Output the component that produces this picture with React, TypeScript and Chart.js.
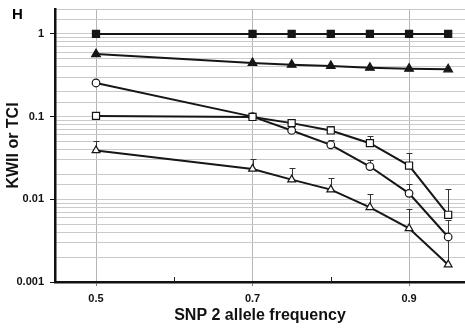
import React, { useEffect, useRef } from "react";
import { Chart, registerables } from "chart.js";

Chart.register(...registerables);

const xValues = [0.5, 0.7, 0.75, 0.8, 0.85, 0.9, 0.95];
const filledSquares = [1, 1, 1, 1, 1, 1, 1];
const filledTriangles = [0.57, 0.445, 0.425, 0.41, 0.39, 0.38, 0.373];
const openCircles = [0.255, 0.1, 0.068, 0.0456, 0.0249, 0.0118, 0.0035];
const openSquares = [0.102, 0.099, 0.0834, 0.068, 0.0477, 0.0256, 0.0065];
const openTriangles = [0.039, 0.0233, 0.0173, 0.0131, 0.008, 0.00445, 0.00162];

const openCirclesUpper = [null, null, null, 0.0515, 0.03, 0.0155, 0.0056];
const openSquaresUpper = [null, null, null, 0.077, 0.058, 0.036, 0.0134];
const openTrianglesUpper = [0.05, 0.031, 0.0238, 0.0182, 0.0116, 0.0076, 0.0034];

const xTickValues = [0.5, 0.6, 0.7, 0.8, 0.9];
const xLabeledTicks = [0.5, 0.7, 0.9];
const yLabeledTicks = [1, 0.1, 0.01, 0.001];
const panelLabel = "H";
const xTitle = "SNP 2 allele frequency";
const yTitle = "KWII or TCI";

const FONT = "'Liberation Sans', Arial, sans-serif";
const INK = "#161616";
const GRID = "#c9c9c9";

const near = (a: number, b: number) => Math.abs(a - b) < 1e-9 * Math.max(1, Math.abs(b)) + 1e-12;
const isDecade = (v: number) => yLabeledTicks.some((t) => Math.abs(v - t) / t < 1e-6);

const toPts = (ys: number[]) => xValues.map((x, i) => ({ x, y: ys[i] }));

const errorBarPlugin = {
  id: "errorBars",
  beforeDatasetsDraw(chart: any) {
    const { ctx, scales } = chart;
    const xs = scales.x;
    const ys = scales.y;
    ctx.save();
    ctx.strokeStyle = "#333";
    ctx.lineWidth = 1;
    chart.data.datasets.forEach((ds: any) => {
      const ups = ds.upper as (number | null)[] | undefined;
      if (!ups) return;
      ds.data.forEach((p: any, i: number) => {
        const u = ups[i];
        if (u == null) return;
        const px = Math.round(xs.getPixelForValue(p.x)) + 0.5;
        const y0 = ys.getPixelForValue(p.y);
        const y1 = Math.round(ys.getPixelForValue(u)) + 0.5;
        ctx.beginPath();
        ctx.moveTo(px, y0);
        ctx.lineTo(px, y1);
        ctx.moveTo(px - 3, y1);
        ctx.lineTo(px + 3, y1);
        ctx.stroke();
      });
    });
    ctx.restore();
  },
  afterDraw(chart: any) {
    const { ctx, scales } = chart;
    const xs = scales.x;
    ctx.save();
    ctx.strokeStyle = "#222";
    ctx.lineWidth = 1;
    xTickValues.forEach((v) => {
      if (xLabeledTicks.some((t) => near(t, v))) return;
      const px = Math.round(xs.getPixelForValue(v)) + 0.5;
      ctx.beginPath();
      ctx.moveTo(px, xs.top);
      ctx.lineTo(px, xs.top - 5);
      ctx.stroke();
    });
    ctx.fillStyle = "#000";
    ctx.font = `bold 15px ${FONT}`;
    ctx.textBaseline = "alphabetic";
    ctx.textAlign = "left";
    ctx.fillText(panelLabel, 12, 19);
    ctx.restore();
  },
};

function makeSet(data: number[], style: string, radius: number, filled: boolean, upper?: (number | null)[]) {
  return {
    data: toPts(data),
    upper,
    borderColor: INK,
    borderWidth: 2,
    pointStyle: style,
    pointRadius: radius,
    pointBackgroundColor: filled ? INK : "#ffffff",
    pointBorderColor: INK,
    pointBorderWidth: 1.2,
    tension: 0,
    fill: false,
    clip: 8,
  };
}

export default function App() {
  const ref = useRef<HTMLCanvasElement | null>(null);
  useEffect(() => {
    document.body.style.margin = "0";
    const canvas = ref.current;
    if (!canvas) return;
    const chart = new Chart(canvas, {
      type: "line",
      data: {
        datasets: [
          makeSet(openTriangles, "triangle", 4.5, false, openTrianglesUpper),
          makeSet(openSquares, "rect", 5, false, openSquaresUpper),
          makeSet(openCircles, "circle", 3.8, false, openCirclesUpper),
          makeSet(filledTriangles, "triangle", 5, true),
          makeSet(filledSquares, "rect", 5, true),
        ] as any,
      },
      options: {
        animation: false,
        responsive: false,
        maintainAspectRatio: false,
        devicePixelRatio: 1,
        layout: { autoPadding: false, padding: { top: 9, left: 0, right: 0, bottom: 0 } },
        plugins: {
          legend: { display: false },
          tooltip: { enabled: false },
        },
        scales: {
          x: {
            type: "linear",
            min: 0.4476,
            max: 0.9715,
            afterBuildTicks: (scale: any) => {
              scale.ticks = xTickValues.map((v) => ({ value: v }));
            },
            afterFit: (scale: any) => {
              scale.height = 47;
            },
            ticks: {
              autoSkip: false,
              maxRotation: 0,
              padding: 6,
              color: "#111",
              font: { family: FONT, size: 11, weight: "bold" },
              callback: (v: any) => {
                const n = Number(v);
                return xLabeledTicks.some((t) => near(t, n)) ? String(n) : "";
              },
            },
            grid: {
              color: (c: any) => (c.tick && xLabeledTicks.some((t) => near(t, c.tick.value)) ? "#b5b5b5" : "rgba(0,0,0,0)"),
              tickColor: (c: any) => (c.tick && xLabeledTicks.some((t) => near(t, c.tick.value)) ? "#777" : "rgba(0,0,0,0)"),
              tickLength: 4,
              lineWidth: 1,
            },
            border: { color: "#111", width: 2.5 },
            title: {
              display: true,
              text: xTitle,
              color: "#111",
              font: { family: FONT, size: 16, weight: "bold" },
              padding: { top: 0, bottom: 4 },
            },
          },
          y: {
            type: "logarithmic",
            min: 0.001,
            max: 2,
            afterFit: (scale: any) => {
              scale.width = 55;
            },
            ticks: {
              autoSkip: false,
              padding: 6,
              color: "#111",
              font: (c: any) => ({
                family: FONT,
                size: c.tick && isDecade(c.tick.value) ? 11 : 1,
                weight: "bold",
              }),
              callback: (v: any) => {
                const n = Number(v);
                const hit = yLabeledTicks.find((t) => Math.abs(n - t) / t < 1e-6);
                return hit !== undefined ? String(hit) : "";
              },
            },
            grid: {
              color: GRID,
              lineWidth: 1,
              tickLength: 5,
              tickColor: (c: any) => (c.tick && isDecade(c.tick.value) ? "#111" : "rgba(0,0,0,0)"),
            },
            border: { color: "#111", width: 2.5 },
            title: {
              display: true,
              text: yTitle,
              color: "#111",
              font: { family: FONT, size: 16, weight: "bold" },
              padding: { top: 4, bottom: 0 },
            },
          },
        },
      } as any,
      plugins: [errorBarPlugin],
    });
    return () => chart.destroy();
  }, []);
  return (
    <div style={{ position: "relative", width: 465, height: 329 }}>
      <canvas ref={ref} width={465} height={329} style={{ display: "block" }} />
    </div>
  );
}
